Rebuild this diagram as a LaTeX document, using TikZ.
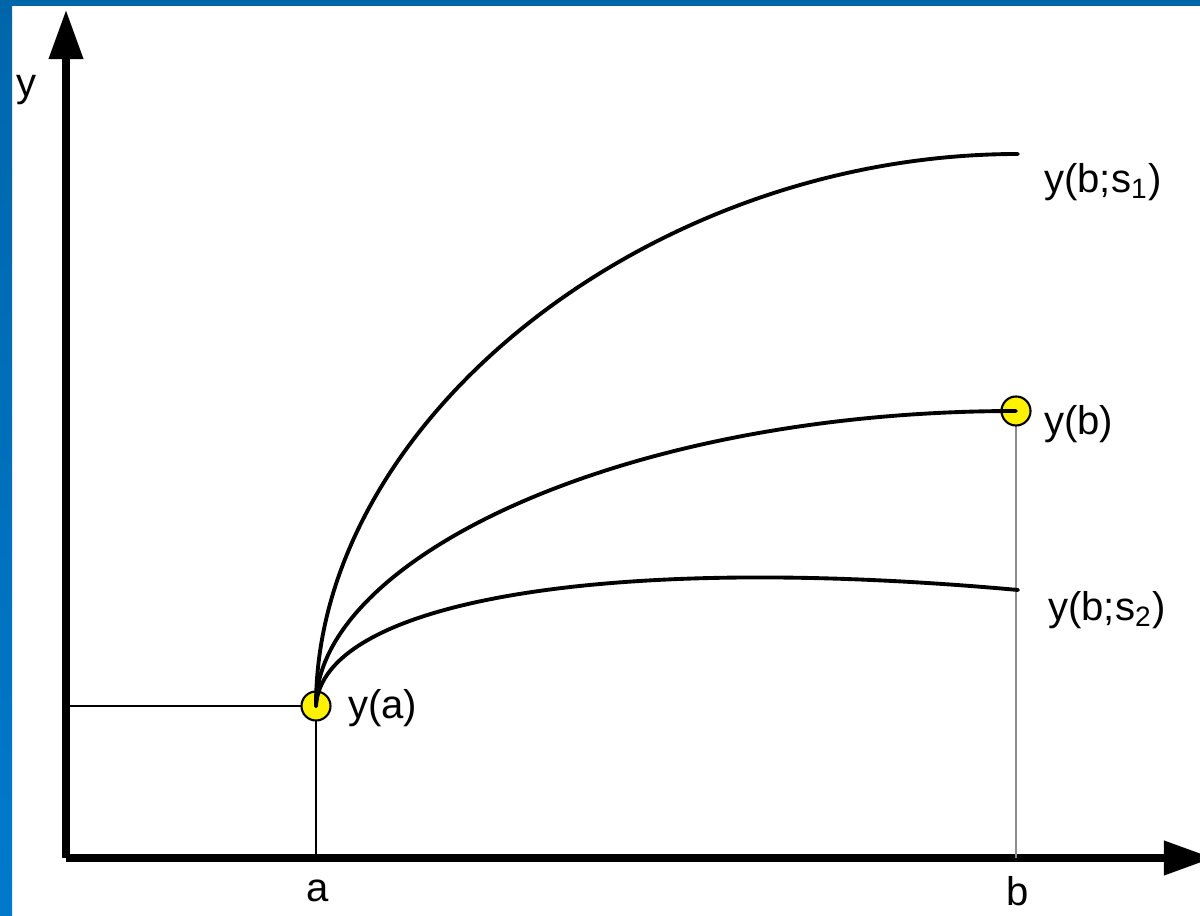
\documentclass[tikz,border=0pt]{standalone}
\usepackage{fontspec}
\setmainfont{Liberation Sans}
\usepackage{tikz}
\usetikzlibrary{arrows.meta,calc}
\definecolor{framebluetop}{HTML}{0066AA}
\definecolor{frameblueend}{HTML}{0079CC}
\tikzset{
axisline/.style={line width=2pt,line join=round,-{Triangle[length=4.9mm,width=3.3mm]}},
trajline/.style={line width=1.1pt,line cap=round},
guideline/.style={line width=0.35pt},
guidegray/.style={line width=0.35pt,draw=black!45},
bvpdot/.style={circle,draw,line width=0.6pt,fill=yellow,minimum size=0.29cm,inner sep=0pt},
axlabel/.style={font=\fontsize{11.4}{13.7}\selectfont,inner sep=1pt},
endlabel/.style={axlabel,anchor=west}
}
\begin{document}
\begin{tikzpicture}[x=0.01cm,y=-0.01cm]
\useasboundingbox (0,0) rectangle (1200,916);
% frame
\fill[framebluetop] (0,0) rectangle (1200,6);
\shade[top color=framebluetop,bottom color=frameblueend] (0,0) rectangle (12,916);
% axes
\coordinate (O) at (66,858);
\coordinate (ytip) at (66,10);
\coordinate (xtip) at (1213,858);
\draw[axisline] (O) -- (ytip);
\draw[axisline] (O) -- (xtip);
\node[axlabel] (ylab) at (27,90) {y};
\node[axlabel] (alab) at (318,891) {a};
\node[axlabel] (blab) at (1018,891) {b};
% boundary points
\coordinate (pa) at (316,706);
\coordinate (pb) at (1016,411);
\draw[guideline] (O |- pa) -- (pa) -- (pa |- O);
\draw[guidegray] (pb) -- (pb |- O);
\node[bvpdot] (ya) at (pa) {};
\node[bvpdot] (yb) at (pb) {};
\coordinate (s1end) at (1018,154);
\coordinate (s2end) at (1018,590);
% trial trajectories
\draw[trajline] (ya.center) .. controls (316,420) and (650,154) .. (s1end);
\draw[trajline] (ya.center) .. controls (316,560) and (620,411) .. (yb.center);
\draw[trajline] (ya.center) .. controls (322,603) and (600,552) .. (s2end);
\node[endlabel] (yalab) at (344,708) {y(a)};
\node[endlabel] (yblab) at (1040,424) {y(b)};
\node[endlabel] (s1lab) at (1040,182) {y(b;s\textsubscript{1})};
\node[endlabel] (s2lab) at (1044,610) {y(b;s\textsubscript{2})};
\end{tikzpicture}
\end{document}
